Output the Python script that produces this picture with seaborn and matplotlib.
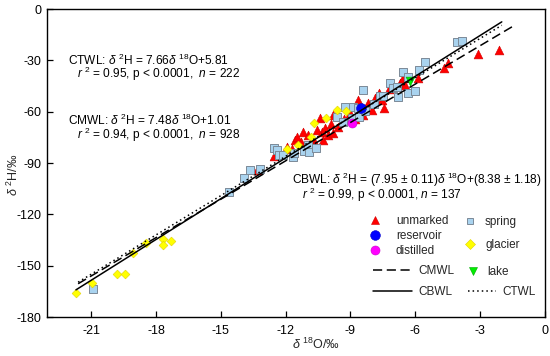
import matplotlib
matplotlib.use("Agg")
import matplotlib.pyplot as plt
from matplotlib.lines import Line2D
from matplotlib.legend import Legend
import seaborn as sns
import pandas as pd
import numpy as np

# ---------------- data ----------------
unmarked_x = [-13.33, -12.52, -12.25, -11.95, -11.7, -11.56, -11.48, -11.3, -11.18, -10.98, -10.95,
              -10.8, -10.64, -10.56, -10.41, -10.3, -10.25, -10.18, -10.02, -9.9, -9.79, -9.79,
              -9.56, -9.3, -9.0, -8.8, -8.63, -8.6, -8.40, -8.2, -8.02, -7.86, -7.7, -7.55,
              -7.43, -7.2, -6.71, -6.58, -6.48, -5.86, -4.66, -4.47, -3.08, -2.11]
unmarked_y = [-94.1, -86.0, -84.5, -80.5, -82.0, -76.6, -74.6, -78.0, -71.7, -79.5, -73.6,
              -76.5, -78.5, -70.7, -63.9, -72.0, -76.6, -69.7, -73.6, -67.0, -72.7, -61.9,
              -68.8, -64.0, -61.0, -64.0, -53.2, -60.0, -61.9, -55.0, -59.0, -52.2, -49.0, -53.2,
              -58.0, -47.0, -43.1, -40.5, -44.4, -40.5, -34.7, -31.7, -26.3, -24.0]

spring_x = [-20.89, -14.62, -13.91, -13.64, -13.18, -12.53, -12.41, -12.3, -12.1, -11.64, -11.6,
            -11.13, -10.95, -10.92, -10.61, -9.63, -9.36, -9.25, -8.87, -8.91, -8.67, -8.59,
            -8.33, -8.40, -7.91, -7.63, -7.48, -7.17, -7.05, -6.86, -6.79, -6.55, -6.32,
            -6.32, -6.01, -5.83, -5.55, -4.09, -3.85]
spring_y = [-163.8, -107.1, -98.6, -94.1, -93.7, -81.2, -82.4, -85.3, -85.3, -86.3, -84.0,
            -83.0, -79.5, -83.4, -81.4, -63.3, -65.9, -57.1, -57.1, -63.5, -58.0, -62.9,
            -59.6, -47.3, -55.4, -50.8, -50.8, -43.1, -46.4, -45.8, -51.7, -36.6, -39.5,
            -49.3, -48.0, -35.6, -31.2, -19.1, -18.5]

glacier_x = [-21.69, -20.95, -19.81, -19.43, -19.06, -18.47, -17.68, -17.68, -17.30,
             -11.93, -11.45, -10.82, -10.70, -10.11, -9.62, -9.21]
glacier_y = [-166.2, -160.3, -155.0, -155.0, -142.4, -136.5, -134.6, -137.9, -135.6,
             -81.6, -79.5, -74.6, -66.8, -63.9, -59.0, -59.5]

reservoir_x = [-8.51]
reservoir_y = [-57.7]
distilled_x = [-8.94]
distilled_y = [-66.4]
lake_x = [-6.24]
lake_y = [-41.9]

# regression lines: slope, intercept, x-range
line_names = ["CMWL", "CBWL", "CTWL"]
line_slope = [7.48, 7.95, 7.66]
line_icpt = [1.01, 8.38, 5.81]
line_xmin = [-21.6, -21.7, -21.6]
line_xmax = [-1.5, -2.0, -2.0]

x_ticks = [-21, -18, -15, -12, -9, -6, -3, 0]
y_ticks = [-180, -150, -120, -90, -60, -30, 0]

# ---------------- style ----------------
sns.set_theme(style="white")
plt.rcParams["font.family"] = ["Liberation Sans", "DejaVu Sans"]
plt.rcParams["mathtext.fontset"] = "custom"
plt.rcParams["mathtext.rm"] = "Liberation Sans"
plt.rcParams["mathtext.it"] = "Liberation Sans:italic"
plt.rcParams["mathtext.bf"] = "Liberation Sans:bold"

W, H = 550, 356
fig = plt.figure(figsize=(W / 100, H / 100), dpi=100)
L, R, T, B = 47, 545, 9, 317
ax = fig.add_axes([L / W, 1 - B / H, (R - L) / W, (B - T) / H])

def scat(xs, ys, marker, fc, ec, s, lw, z):
    df = pd.DataFrame({"x": xs, "y": ys})
    sns.scatterplot(data=df, x="x", y="y", ax=ax, marker=marker, color=fc,
                    edgecolor=ec, s=s, linewidth=lw, zorder=z, legend=False)

red = "#ff0000"
sky = "#a9d3ef"
sky_e = "#7c8a98"
yel = "#ffff00"
scat(unmarked_x, unmarked_y, "^", red, "#d00000", 40, 0.4, 3)
scat(spring_x, spring_y, "s", sky, sky_e, 26, 0.7, 4)
scat(glacier_x, glacier_y, "D", yel, "#e0d000", 20, 0.4, 4)
scat(reservoir_x, reservoir_y, "o", "#0000ff", "#0000cc", 50, 0.4, 5)
scat(distilled_x, distilled_y, "o", "#ff00ff", "#cc00cc", 42, 0.4, 5)
scat(lake_x, lake_y, "v", "#00ee00", "#00aa00", 40, 0.4, 5)

styles = {"CMWL": (0, (6, 3)), "CBWL": "-", "CTWL": (0, (1, 2))}
for nm, a, b, x0, x1 in zip(line_names, line_slope, line_icpt, line_xmin, line_xmax):
    xs = np.array([x0, x1])
    dfl = pd.DataFrame({"x": xs, "y": a * xs + b})
    sns.lineplot(data=dfl, x="x", y="y", ax=ax, color="black", linewidth=1.1,
                 linestyle=styles[nm], sort=False, estimator=None, zorder=6)

ax.set_xlim(-23.04, 0)
ax.set_ylim(-180, 0)
ax.set_xticks(x_ticks)
ax.set_yticks(y_ticks)
ax.set_xticklabels([str(t) for t in x_ticks])
ax.set_yticklabels([str(t) for t in y_ticks])
ax.tick_params(axis="both", which="both", direction="in", length=4, width=0.9,
               labelsize=9, colors="black", bottom=True, left=True, top=False, right=False)
ax.tick_params(axis="x", pad=6)
ax.tick_params(axis="y", pad=4)
for sp in ax.spines.values():
    sp.set_color("black")
    sp.set_linewidth(1.0)
ax.grid(False)

ax.set_xlabel(r"$\mathit{δ}$ $^{18}$O/‰", fontsize=9)
ax.set_ylabel(r"$\mathit{δ}$ $^{2}$H/‰", fontsize=9)
ax.xaxis.set_label_coords((316 - L) / (R - L), (B - 337) / (B - T))
ax.yaxis.set_label_coords((21 - L) / (R - L), (B - 175) / (B - T))

# ---------------- annotations ----------------
def px2ax(px, py):
    return ((px - L) / (R - L), (B - py) / (B - T))

fs = 8.6
notes = [
    (68, 60, r"CTWL: $\mathit{δ}$ $^{2}$H = 7.66$\mathit{δ}$ $^{18}$O+5.81"),
    (77, 74, r"$\mathit{r}$ $^{2}$ = 0.95, p < 0.0001,  $\mathit{n}$ = 222"),
    (68, 120, r"CMWL: $\mathit{δ}$ $^{2}$H = 7.48$\mathit{δ}$ $^{18}$O+1.01"),
    (77, 135, r"$\mathit{r}$ $^{2}$ = 0.94, p < 0.0001,  $\mathit{n}$ = 928"),
    (292, 180, r"CBWL: $\mathit{δ}$ $^{2}$H = (7.95 ± 0.11)$\mathit{δ}$ $^{18}$O+(8.38 ± 1.18)"),
    (302, 195, r"$\mathit{r}$ $^{2}$ = 0.99, p < 0.0001, $\mathit{n}$ = 137"),
]
for px, py, t in notes:
    ax.text(*px2ax(px, py), t, transform=ax.transAxes, fontsize=fs, ha="left", va="center",
            color="black")

# ---------------- legend ----------------
lfs = 8.5
em = lfs * 100 / 72.0

def entry(handle, label, left_px, handle_px, text_px, y_px):
    hl = handle_px / em
    pad = (text_px - left_px - handle_px) / em
    leg = Legend(ax, [handle], [label], loc="center left",
                 bbox_to_anchor=px2ax(left_px, y_px), bbox_transform=ax.transAxes,
                 frameon=False, fontsize=lfs, handlelength=hl, handletextpad=pad,
                 borderpad=0, borderaxespad=0, markerscale=1.0)
    ax.add_artist(leg)

def mk(marker, fc, ec, ms, lw=0.4):
    return Line2D([], [], marker=marker, linestyle="none", markerfacecolor=fc,
                  markeredgecolor=ec, markersize=ms, markeredgewidth=lw)

def ln(ls):
    return Line2D([], [], color="black", linestyle=ls, linewidth=1.1)

entry(mk("^", red, "#d00000", 6.3), "unmarked", 369, 12, 396, 221)
entry(mk("o", "#0000ff", "#0000cc", 7.0), "reservoir", 369, 12, 396, 236)
entry(mk("o", "#ff00ff", "#cc00cc", 6.5), "distilled", 369, 12, 396, 251)
entry(ln(styles["CMWL"]), "CMWL", 373, 39, 418, 271)
entry(ln(styles["CBWL"]), "CBWL", 373, 39, 418, 292)
entry(mk("s", sky, sky_e, 5.0, 0.7), "spring", 464, 12, 485, 222)
entry(mk("D", yel, "#e0d000", 4.6), "glacier", 464, 12, 485, 245)
entry(mk("v", "#00ee00", "#00aa00", 6.3), "lake", 467, 12, 487, 272)
entry(ln(styles["CTWL"]), "CTWL", 468, 28, 502, 292)

fig.savefig("out.png", dpi=100)
